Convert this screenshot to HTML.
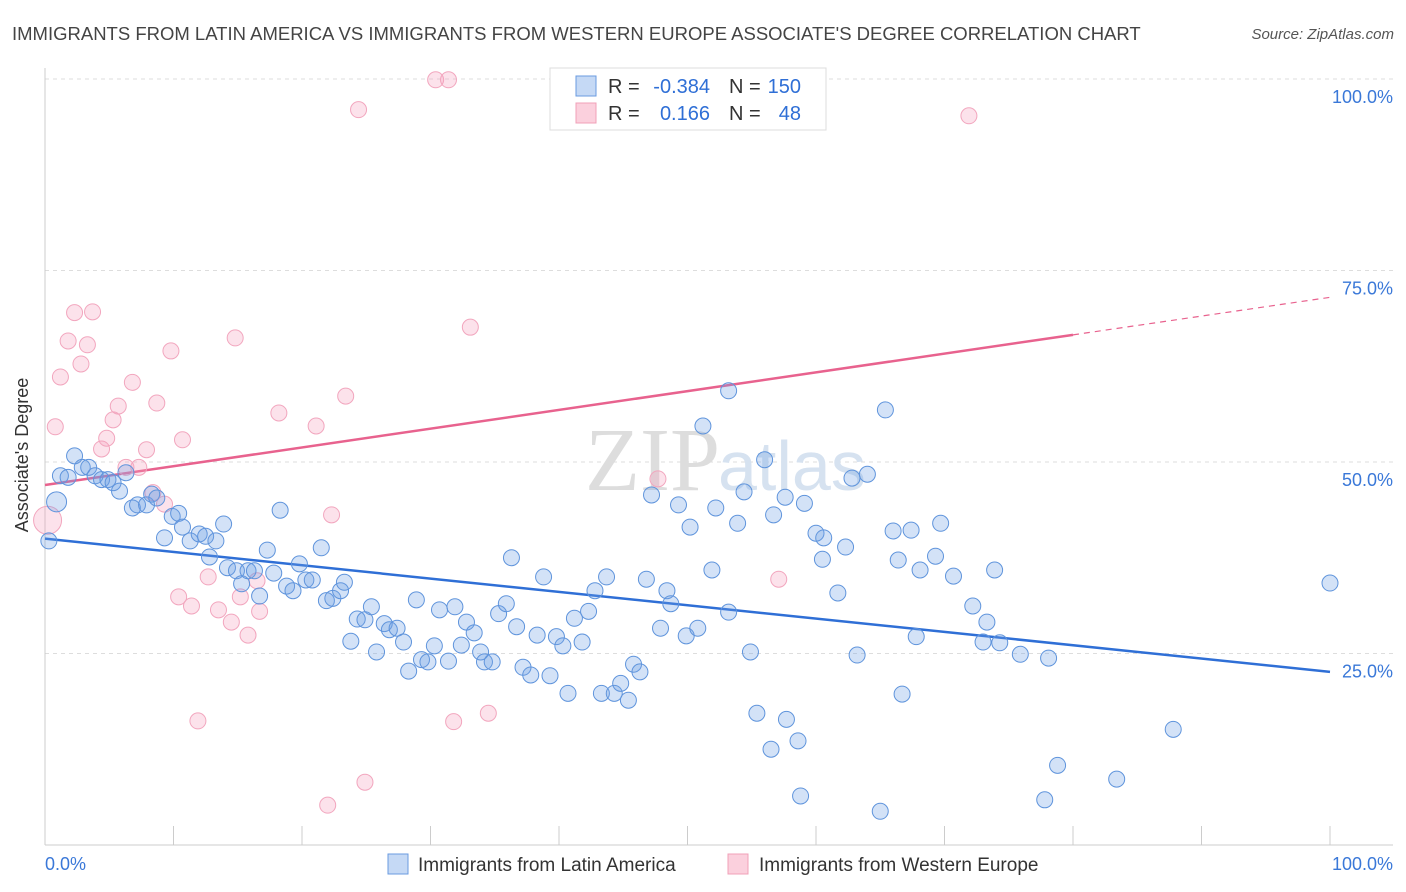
<!DOCTYPE html>
<html><head><meta charset="utf-8">
<style>
body{margin:0;background:#fff;font-family:"Liberation Sans",sans-serif;}
svg{display:block}
</style></head>
<body>
<svg id="chart" width="1406" height="892" xmlns="http://www.w3.org/2000/svg">
<text x="12" y="40" font-size="18.5" fill="#444">IMMIGRANTS FROM LATIN AMERICA VS IMMIGRANTS FROM WESTERN EUROPE ASSOCIATE'S DEGREE CORRELATION CHART</text>
<text x="1394" y="39" font-size="15" fill="#555" font-style="italic" text-anchor="end">Source: ZipAtlas.com</text>
<g id="grid"></g>
<text x="720" y="490" font-size="90" fill="#ddd" text-anchor="end" font-family="Liberation Serif">ZIP</text>
<text x="718" y="490" font-size="70" fill="#d6e2f0">atlas</text>
<g id="lines"></g>
<g id="pts"></g>
<text x="28" y="455" font-size="18" fill="#333" text-anchor="middle" transform="rotate(-90 28 455)">Associate's Degree</text>
<g>
<rect x="550" y="68" width="276" height="62" fill="#fff" stroke="#ddd"/>
<rect x="576" y="76" width="20" height="20" fill="#c5d9f5" stroke="#6a9be0"/>
<rect x="576" y="103" width="20" height="20" fill="#fbd0dd" stroke="#f0a0b8"/>
<text x="608" y="93" font-size="20" fill="#333">R =</text>
<text x="710" y="93" font-size="20" fill="#2f6fd6" text-anchor="end">-0.384</text>
<text x="729" y="93" font-size="20" fill="#333">N =</text>
<text x="801" y="93" font-size="20" fill="#2f6fd6" text-anchor="end">150</text>
<text x="608" y="120" font-size="20" fill="#333">R =</text>
<text x="710" y="120" font-size="20" fill="#2f6fd6" text-anchor="end">0.166</text>
<text x="729" y="120" font-size="20" fill="#333">N =</text>
<text x="801" y="120" font-size="20" fill="#2f6fd6" text-anchor="end">48</text>
</g>
<g>
<rect x="388" y="854" width="20" height="20" fill="#c5d9f5" stroke="#6a9be0"/>
<text x="418" y="871" font-size="19" fill="#333">Immigrants from Latin America</text>
<rect x="728" y="854" width="20" height="20" fill="#fbd0dd" stroke="#f0a0b8"/>
<text x="759" y="871" font-size="19" fill="#333">Immigrants from Western Europe</text>
</g>
</svg>
<script>
const yTicks=[25,50,75,100];
const yTickLabels=["25.0%","50.0%","75.0%","100.0%"];
const blueX=[0.3,0.9,1.2,1.8,2.3,2.9,3.4,3.9,4.4,4.9,5.3,5.8,6.3,6.8,7.2,7.9,8.3,8.7,9.3,9.9,10.4,10.7,11.3,12.0,12.5,13.3,12.8,13.9,14.2,14.9,15.3,15.8,16.3,16.7,17.3,17.8,18.3,18.8,19.3,19.8,20.3,20.8,21.5,21.9,22.4,23.0,23.3,23.8,24.3,24.9,25.4,25.8,26.4,26.8,27.4,27.9,28.3,28.9,29.3,29.8,30.3,30.7,31.4,31.9,32.4,32.8,33.4,33.9,34.2,34.8,35.3,35.9,36.3,36.7,37.2,37.8,38.3,38.8,39.3,39.8,40.3,40.7,41.2,41.8,42.3,42.8,43.3,43.7,44.3,44.8,45.4,45.8,46.3,46.8,47.2,47.9,48.4,48.7,49.3,49.9,50.2,50.8,51.2,51.9,52.2,53.2,53.2,53.9,54.4,54.9,55.4,56.0,56.5,56.7,57.7,57.6,58.6,58.8,59.1,60.0,60.5,60.6,61.7,62.3,63.2,62.8,64.0,65.0,65.4,66.0,66.4,66.7,67.4,67.8,68.1,69.3,69.7,70.7,72.2,73.0,73.3,73.9,74.3,75.9,77.8,78.1,78.8,83.4,87.8,100.0];
const blueY=[39.7,44.8,48.2,48.0,50.8,49.3,49.3,48.2,47.7,47.7,47.3,46.2,48.6,44.0,44.4,44.4,45.8,45.3,40.1,42.9,43.3,41.5,39.7,40.6,40.3,39.7,37.6,41.9,36.2,35.8,34.1,35.8,35.8,32.5,38.5,35.5,43.7,33.8,33.2,36.7,34.6,34.6,38.8,31.9,32.2,33.2,34.3,26.6,29.5,29.4,31.1,25.2,28.9,28.1,28.3,26.5,22.7,32.0,24.2,23.9,26.0,30.7,24.0,31.1,26.1,29.1,27.7,25.2,23.9,23.9,30.2,31.5,37.5,28.5,23.2,22.2,27.4,35.0,22.1,27.2,26.0,19.8,29.6,26.5,30.5,33.2,19.8,35.0,19.8,21.1,18.9,23.6,22.6,34.7,45.7,28.3,33.2,31.5,44.4,27.3,41.5,28.3,54.7,35.9,44.0,30.4,59.3,42.0,46.1,25.2,17.2,50.3,12.5,43.1,16.4,45.4,13.6,6.4,44.6,40.7,37.3,40.1,32.9,38.9,24.8,47.9,48.4,4.4,56.8,41.0,37.2,19.7,41.1,27.2,35.9,37.7,42.0,35.1,31.2,26.5,29.1,35.9,26.4,24.9,5.9,24.4,10.4,8.6,15.1,34.2];
const pinkX=[0.2,0.8,1.2,1.8,2.3,2.8,3.3,3.7,4.4,4.8,5.3,5.7,6.3,6.8,7.3,7.9,8.4,8.7,9.3,9.8,10.4,10.7,11.4,11.9,12.7,13.5,14.5,14.8,15.2,15.8,16.5,16.7,18.2,21.1,22.0,22.3,23.4,24.4,24.9,30.4,31.4,31.8,33.1,34.5,47.7,57.1,71.9];
const pinkY=[42.4,54.6,61.1,65.8,69.5,62.8,65.3,69.6,51.7,53.1,55.5,57.3,49.3,60.4,49.3,51.6,46.0,57.7,44.5,64.5,32.4,52.9,31.2,16.2,35.0,30.7,29.1,66.2,32.4,27.4,34.5,30.5,56.4,54.7,5.2,43.1,58.6,96.0,8.2,99.9,99.9,16.1,67.6,17.2,47.8,34.7,95.2];
const blueTrend=[40.0,22.6];
const pinkTrend=[47.0,71.5];
const pinkSolidEnd=80;

const NS="http://www.w3.org/2000/svg";
const X=v=>45+v*12.85;
const Y=v=>845-v*7.66;
function mk(tag,attrs,parent){const e=document.createElementNS(NS,tag);for(const k in attrs)e.setAttribute(k,attrs[k]);parent.appendChild(e);return e;}
const grid=document.getElementById('grid');
yTicks.forEach((t,i)=>{
  const l=mk('line',{x1:45,x2:1393,y1:Y(t),y2:Y(t),stroke:'#ddd','stroke-dasharray':'4,4'},grid);
  
  
  const tx=mk('text',{x:1393,y:Y(t)+24,'font-size':18,fill:'#3a78d8','text-anchor':'end'},grid);
  tx.textContent=yTickLabels[i];
  
  
});
const ax=mk('line',{x1:45,x2:1393,y1:845,y2:845,stroke:'#ccc'},grid);


const ay=mk('line',{x1:45,x2:45,y1:68,y2:845,stroke:'#ccc'},grid);


for(let i=0;i<=10;i++){
  const t=mk('line',{x1:X(i*10),x2:X(i*10),y1:826,y2:845,stroke:'#ccc'},grid);
  
  
}
const xl=mk('text',{x:45,y:870,'font-size':18,fill:'#3a78d8'},grid);xl.textContent='0.0%';


const xr=mk('text',{x:1393,y:870,'font-size':18,fill:'#3a78d8','text-anchor':'end'},grid);xr.textContent='100.0%';



const pts=document.getElementById('pts');
pinkX.forEach((x,i)=>{
  const c=mk('circle',{cx:X(x),cy:Y(pinkY[i]),r:i==0?14:8,fill:'rgba(245,160,190,0.3)',stroke:'#f2a6be','stroke-width':1},pts);
  
  
});
blueX.forEach((x,i)=>{
  const c=mk('circle',{cx:X(x),cy:Y(blueY[i]),r:i==1?10:8,fill:'rgba(110,160,230,0.3)',stroke:'#5f94dc','stroke-width':1},pts);
  
  
});
const lines=document.getElementById('lines');
const bl=mk('line',{x1:X(0),y1:Y(blueTrend[0]),x2:X(100),y2:Y(blueTrend[1]),stroke:'#2f6fd6','stroke-width':2.5},lines);


const pm=pinkTrend[0]+(pinkTrend[1]-pinkTrend[0])*pinkSolidEnd/100;
const pl=mk('line',{x1:X(0),y1:Y(pinkTrend[0]),x2:X(pinkSolidEnd),y2:Y(pm),stroke:'#e8628e','stroke-width':2.5},lines);


const pd=mk('line',{x1:X(pinkSolidEnd),y1:Y(pm),x2:X(100),y2:Y(pinkTrend[1]),stroke:'#e8628e','stroke-width':1.2,'stroke-dasharray':'6,5'},lines);


</script>
</body></html>
